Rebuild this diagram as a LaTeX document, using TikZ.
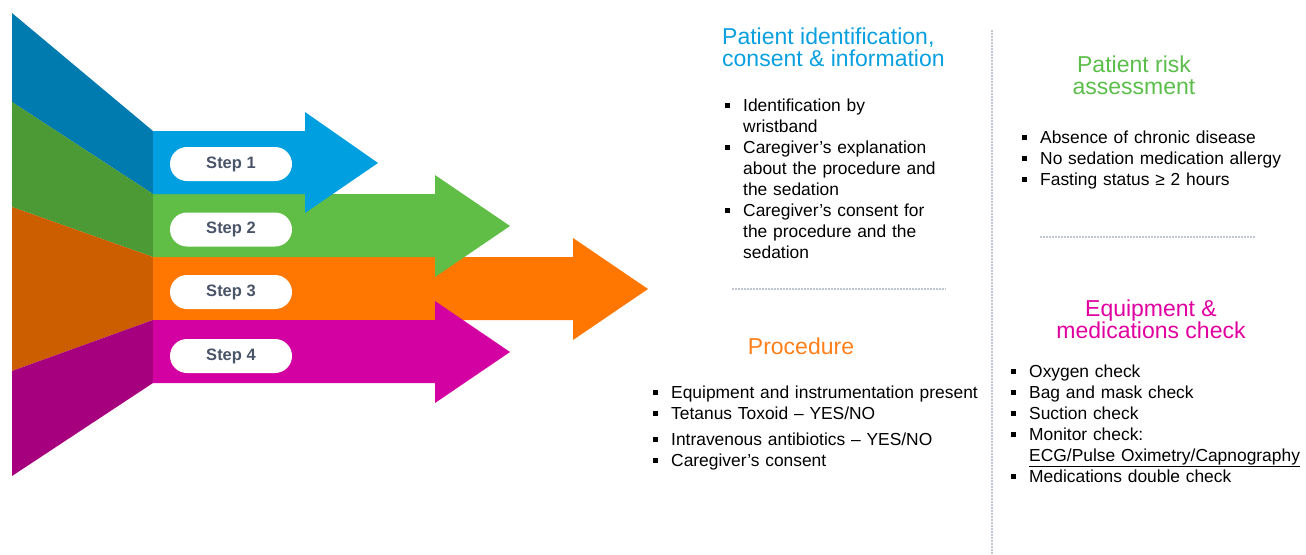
\documentclass[tikz,border=0pt]{standalone}
\usepackage{fontspec}
\setmainfont{Liberation Sans}
\definecolor{arblue}{HTML}{009FE0}
\definecolor{arbluedk}{HTML}{007BB0}
\definecolor{argreen}{HTML}{60BD45}
\definecolor{argreendk}{HTML}{4C9A35}
\definecolor{arorange}{HTML}{FF7700}
\definecolor{arorangedk}{HTML}{CC5E00}
\definecolor{armagenta}{HTML}{D300A2}
\definecolor{armagentadk}{HTML}{A6007E}
\definecolor{steptext}{HTML}{4A5468}
\definecolor{tblue}{HTML}{0AA0E0}
\definecolor{tgreen}{HTML}{5BBE4A}
\definecolor{torange}{HTML}{FF7F1A}
\definecolor{tmagenta}{HTML}{E000A0}
\definecolor{sepgray}{HTML}{C2C8D2}
\newcommand{\bitem}{\noindent\hangindent=18pt\hangafter=1\makebox[18pt][l]{\raisebox{3.5pt}{\rule{5pt}{5pt}}}\ignorespaces}
\begin{document}
\begin{tikzpicture}[x=1pt,y=-1pt,
  stepbox/.style={fill=white,rounded corners=17pt,minimum width=122pt,minimum height=34pt,inner sep=0pt,font=\fontsize{16.5}{18}\selectfont\bfseries,text=steptext},
  heading/.style={inner sep=0pt,font=\fontsize{23}{21.5}\selectfont},
  itemlist/.style={inner sep=0pt,anchor=base west,text width=420pt,font=\fontsize{17.4}{21}\selectfont},
  sepline/.style={sepgray,line width=1.5pt,dash pattern=on 1.5pt off 1.5pt}]
\useasboundingbox (0,0) rectangle (1306,554);
% funnel
\fill[arbluedk] (12,13) -- (153,131) -- (153,194) -- (12,102) -- cycle;
\fill[argreendk] (12,102) -- (153,194) -- (153,257) -- (12,207) -- cycle;
\fill[arorangedk] (12,207) -- (153,257) -- (153,320) -- (12,371) -- cycle;
\fill[armagentadk] (12,371) -- (153,320) -- (153,383) -- (12,476) -- cycle;
% arrows
\fill[arorange] (153,257) -- (573,257) -- (573,238) -- (648,289) -- (573,340) -- (573,320) -- (153,320) -- cycle;
\fill[armagenta] (153,320) -- (435,320) -- (435,301) -- (510,352) -- (435,403) -- (435,383) -- (153,383) -- cycle;
\fill[argreen] (153,194) -- (435,194) -- (435,175) -- (510,226) -- (435,277) -- (435,257) -- (153,257) -- cycle;
\fill[arblue] (153,131) -- (305,131) -- (305,112) -- (378,163) -- (305,213) -- (305,194) -- (153,194) -- cycle;
\foreach \i/\y in {1/164,2/229.5,3/292,4/356}
  \node[stepbox] (step\i) at (231,\y) {Step \i};
% separators
\draw[sepline] (992,30) -- (992,554);
\draw[sepline] (732,289) -- (946,289);
\draw[sepline] (1040,237) -- (1256,237);
% headings (anchored on the last line)
\node[heading,anchor=base west,align=left,text=tblue] (idtitle) at (722,66) {Patient identification,\\consent \& information};
\node[heading,anchor=base,align=center,text=tgreen] (risktitle) at (1134,94) {Patient risk\\assessment};
\node[heading,anchor=base,text=torange] (proctitle) at (801,354) {Procedure};
\node[heading,anchor=base,align=center,text=tmagenta] (equiptitle) at (1151,338) {Equipment \&\\medications check};
% lists
\node[itemlist] (idlist) at (725,111) {%
\bitem Identification by\newline wristband\par
\bitem Caregiver’s explanation\newline about the procedure and\newline the sedation\par
\bitem Caregiver’s consent for\newline the procedure and the\newline sedation\par};
\node[itemlist] (risklist) at (1022,143) {%
\bitem Absence of chronic disease\par
\bitem No sedation medication allergy\par
\bitem Fasting status ≥ 2 hours\par};
\node[itemlist] (proclist) at (653,398) {%
\bitem Equipment and instrumentation present\par
\bitem Tetanus Toxoid – YES/NO\par
\vspace{5pt}\bitem Intravenous antibiotics – YES/NO\par
\bitem Caregiver’s consent\par};
\node[itemlist] (equiplist) at (1011,377) {%
\bitem Oxygen check\par
\bitem Bag and mask check\par
\bitem Suction check\par
\bitem Monitor check:\newline \underline{ECG/Pulse Oximetry/Capnography}\par
\bitem Medications double check\par};
\end{tikzpicture}
\end{document}
